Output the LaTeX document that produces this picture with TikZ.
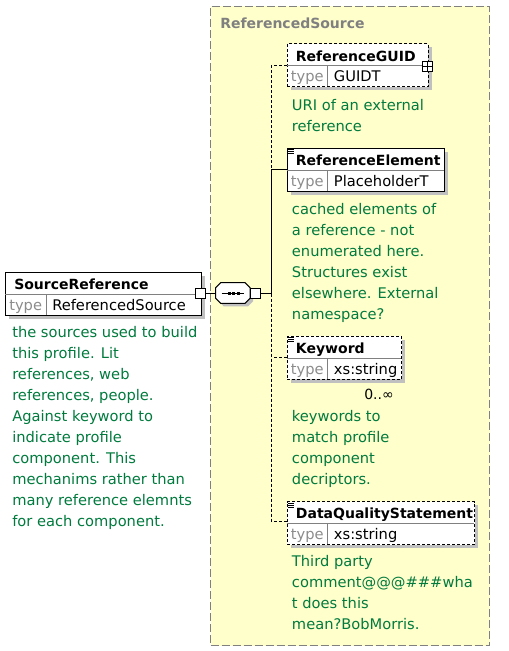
\documentclass[tikz,border=0pt]{standalone}
\usepackage{fontspec}
\setmainfont{DejaVu Sans}
\usetikzlibrary{calc}
\definecolor{docgreen}{RGB}{0,122,61}
\definecolor{seqyellow}{RGB}{255,255,204}
\definecolor{shadowgray}{RGB}{192,192,192}
\definecolor{midgray}{RGB}{128,128,128}
\definecolor{typegray}{RGB}{140,140,140}
\tikzset{
 elbox/.style={draw=black, fill=white, line width=0.75pt, inner sep=0, rectangle},
 optbox/.style={dash pattern=on 2.25pt off 1.5pt},
 reqbox/.style={solid},
 titletxt/.style={inner sep=0, anchor=base west, font=\fontsize{10.5}{12}\selectfont\bfseries},
 typelbl/.style={inner sep=0, anchor=base west, text=typegray, font=\fontsize{11}{12}\selectfont},
 typetxt/.style={inner sep=0, anchor=base west, font=\fontsize{11}{12}\selectfont},
 doc/.style={inner sep=0, anchor=base west, align=left, text=docgreen, font=\fontsize{11}{15.75}\selectfont},
 conn/.style={line width=0.75pt},
 optconn/.style={conn, dash pattern=on 2.25pt off 1.5pt},
 divline/.style={midgray, line width=0.75pt},
 sqbox/.style={draw, fill=white, line width=0.75pt, inner sep=0, minimum width=7.5pt, minimum height=7pt, rectangle},
}
\newcommand\elembox[7]{%
 \fill[shadowgray] (#2+4,#3+4) rectangle (#2+#4+4,#3+47);
 \node[elbox,#7,minimum width={#4*0.75pt},minimum height={43*0.75pt},anchor=north west] (#1) at (#2,#3) {};
 \draw[divline] (#2,#3+22.5) -- (#2+#4,#3+22.5);
 \draw[divline] (#2+41,#3+22.5) -- (#2+41,#3+43);
 \node[titletxt] (#1-title) at (#2+9,#3+17.7) {#5};
 \node[typelbl] (#1-typelbl) at (#2+4,#3+38.4) {type};
 \node[typetxt] (#1-type) at (#2+47,#3+38.4) {#6};
}
\newcommand\annoticon[2]{%
 \foreach \d in {2,4,6} {\draw[line width=0.6pt] (#1+1.5,#2+\d) -- (#1+7,#2+\d);}
}
\begin{document}
\begin{tikzpicture}[x=0.75pt,y=-0.75pt]
\useasboundingbox (0,0) rectangle (508,651);
% group box
\node[draw=midgray, fill=seqyellow, line width=0.75pt, dash pattern=on 6pt off 2.25pt, inner sep=0, minimum width={279*0.75pt}, minimum height={639.3*0.75pt}, anchor=north west] (grp) at (210,5.7) {};
\node[inner sep=0, anchor=base west, text=midgray, font=\fontsize{10.5}{12}\selectfont\bfseries] (grptitle) at (220,28.3) {ReferencedSource};

% connector helpers
\coordinate (busx) at (271.7,0);

% SourceReference
\elembox{src}{5}{271.7}{196}{SourceReference}{ReferencedSource}{reqbox}
\node[sqbox] (ssq) at (200.7,293.5) {};

% compositor
\fill[shadowgray] (223.7,285.7) -- (248,285.7) -- (253,290.7) -- (253,301.3) -- (248,306.3) -- (223.7,306.3) -- (218.7,301.3) -- (218.7,290.7) -- cycle;
\draw[fill=white, line width=0.75pt] (220.7,282.7) -- (245,282.7) -- (250,287.7) -- (250,298.3) -- (245,303.3) -- (220.7,303.3) -- (215.7,298.3) -- (215.7,287.7) -- cycle;
\node[inner sep=0, minimum width={34.3*0.75pt}, minimum height={20.6*0.75pt}] (seq) at (232.85,293.5) {};
\draw[line width=0.75pt] (221.7,293.5) -- (243.5,293.5);
\foreach \xx in {227.5,232,236.5} {\fill (\xx,292) rectangle +(3,3);}
\node[sqbox] (csq) at (255.7,293.5) {};
\draw[conn] (ssq.east) -- (seq.west);

% children
\elembox{guid}{286.7}{43.3}{141}{ReferenceGUID}{GUIDT}{optbox}
\node[sqbox] (gplus) at (427.2,66.5) {};
\draw[line width=0.6pt] (gplus.west) -- (gplus.east) (gplus.north) -- (gplus.south);

\elembox{relem}{286.7}{147.7}{157.3}{ReferenceElement}{PlaceholderT}{reqbox}
\annoticon{286.7}{147.7}

\elembox{kw}{286.7}{335.7}{114.3}{Keyword}{xs:string}{optbox}
\annoticon{286.7}{335.7}
\node[inner sep=0, anchor=base west, font=\fontsize{10.5}{12}\selectfont] (kwocc) at (364,399.3) {0..∞};

\elembox{dqs}{286.7}{501}{187.3}{DataQualityStatement}{xs:string}{optbox}
\annoticon{286.7}{501}

% connection points
\coordinate (jG) at ($(guid.north west)+(0,21.7)$);
\coordinate (jR) at ($(relem.north west)+(0,21.6)$);
\coordinate (jK) at ($(kw.north west)+(0,21.6)$);
\coordinate (jD) at ($(dqs.north west)+(0,20.7)$);
\draw[optconn] (jG) -- (jG -| busx) -- (jR -| busx);
\draw[conn] (jR) -- (jR -| busx) -- (csq.east -| busx) -- (csq.east);
\draw[optconn] (csq.east -| busx) -- (jK -| busx) -- (jD -| busx);
\draw[optconn] (jK) -- (jK -| busx);
\draw[optconn] (jD) -- (jD -| busx);

% documentation (base anchor = baseline of last line)
\node[doc] (srcdoc) at (12,526.3) {the sources used to build\\this profile. Lit\\references, web\\references, people.\\Against keyword to\\indicate profile\\component. This\\mechanims rather than\\many reference elemnts\\for each component.};
\node[doc] (guiddoc) at (291.7,131.7) {URI of an external\\reference};
\node[doc] (relemdoc) at (291.7,319) {cached elements of\\a reference - not\\enumerated here.\\Structures exist\\elsewhere. External\\namespace?};
\node[doc] (kwdoc) at (291.7,484) {keywords to\\match profile\\component\\decriptors.};
\node[doc] (dqsdoc) at (291.7,629.7) {Third party\\comment@@@\#\#\#wha\\t does this\\mean?BobMorris.};
\end{tikzpicture}
\end{document}
